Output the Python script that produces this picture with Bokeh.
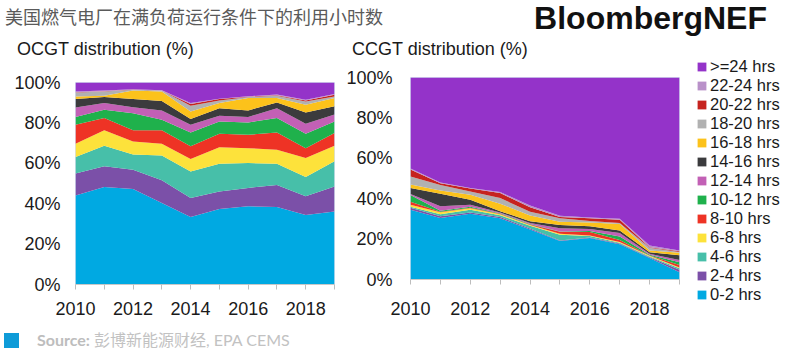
from bokeh.plotting import figure
from bokeh.models import (ColumnDataSource, Range1d, FixedTicker, PrintfTickFormatter,
                          Legend, LegendItem, Div)
from bokeh.layouts import column, row
from bokeh.embed import file_html
from bokeh.resources import INLINE

years = [2010, 2011, 2012, 2013, 2014, 2015, 2016, 2017, 2018, 2019]
year_labels = ["2010", "", "2012", "", "2014", "", "2016", "", "2018", ""]
bins = ["0-2 hrs", "2-4 hrs", "4-6 hrs", "6-8 hrs", "8-10 hrs", "10-12 hrs", "12-14 hrs",
        "14-16 hrs", "16-18 hrs", "18-20 hrs", "20-22 hrs", "22-24 hrs", ">=24 hrs"]
colors = ["#00a9e2", "#7b50a8", "#47bfa9", "#fde23b", "#ee3325", "#1fb14c", "#c260b5",
          "#3b3b3d", "#fcc21b", "#b1b1b1", "#c6231f", "#b991c9", "#9433c9"]
y_ticks = [0, 20, 40, 60, 80, 100]

# OCGT distribution (%) per band, 2010-2019
ocgt_00_02 = [44.0, 48.3, 47.3, 40.4, 33.4, 37.4, 38.7, 38.4, 34.4, 36.2]
ocgt_02_04 = [10.9, 10.2, 9.5, 11.2, 9.4, 8.7, 9.1, 10.9, 9.3, 12.3]
ocgt_04_06 = [8.2, 10.2, 7.5, 12.2, 13.2, 13.7, 12.3, 10.5, 9.5, 12.5]
ocgt_06_08 = [6.6, 7.6, 6.5, 5.9, 6.1, 8.2, 7.4, 6.9, 9.4, 7.7]
ocgt_08_10 = [9.4, 6.1, 5.5, 6.6, 6.3, 6.6, 6.6, 8.6, 4.9, 6.3]
ocgt_10_12 = [3.8, 4.1, 8.5, 5.2, 6.9, 6.1, 6.1, 7.1, 7.1, 5.7]
ocgt_12_14 = [4.7, 3.3, 3.0, 4.7, 3.8, 2.8, 2.7, 4.9, 5.0, 3.5]
ocgt_14_16 = [4.2, 3.0, 4.0, 4.7, 2.8, 3.8, 3.3, 2.8, 5.6, 4.1]
ocgt_16_18 = [1.3, 0.6, 4.2, 4.7, 3.8, 2.5, 6.1, 2.2, 3.8, 4.0]
ocgt_18_20 = [2.0, 2.2, 0.4, 0.4, 2.8, 1.3, 0.5, 1.1, 1.6, 0.8]
ocgt_20_22 = [0.1, 0.1, 0.1, 0.1, 0.8, 0.7, 0.2, 0.3, 0.5, 0.8]
ocgt_22_24 = [0.4, 0.3, 0.1, 0.1, 0.5, 0.2, 0.2, 0.3, 0.4, 0.4]
ocgt_24_up = [4.4, 4.0, 3.4, 3.8, 10.2, 8.0, 6.8, 6.0, 8.5, 5.7]

# CCGT distribution (%) per band, 2010-2019
ccgt_00_02 = [34.5, 30.5, 32.5, 30.3, 24.8, 19.0, 20.5, 17.5, 10.7, 3.6]
ccgt_02_04 = [1.0, 0.8, 0.7, 0.7, 0.4, 0.3, 0.3, 0.3, 0.3, 1.2]
ccgt_04_06 = [0.5, 1.0, 1.3, 0.8, 1.4, 2.9, 0.7, 0.4, 0.4, 0.8]
ccgt_06_08 = [1.0, 1.0, 0.8, 0.5, 0.4, 0.4, 0.3, 0.4, 0.3, 0.4]
ccgt_08_10 = [1.5, 0.3, 0.2, 0.2, 0.2, 1.0, 1.7, 0.9, 0.2, 1.2]
ccgt_10_12 = [3.3, 0.4, 0.5, 0.3, 0.3, 0.2, 0.5, 1.8, 0.3, 1.4]
ccgt_12_14 = [0.5, 2.3, 1.0, 0.4, 0.5, 1.6, 1.0, 1.7, 0.5, 1.0]
ccgt_14_16 = [3.0, 6.2, 2.5, 0.6, 0.8, 1.6, 1.4, 1.3, 0.8, 2.4]
ccgt_16_18 = [1.7, 1.5, 2.5, 3.7, 2.9, 1.6, 1.8, 3.2, 0.8, 1.3]
ccgt_18_20 = [4.0, 2.8, 1.6, 2.8, 1.8, 1.7, 0.7, 0.5, 1.4, 0.3]
ccgt_20_22 = [3.5, 0.9, 1.4, 2.5, 2.3, 0.7, 1.4, 1.6, 0.3, 0.4]
ccgt_22_24 = [0.5, 0.3, 0.3, 0.5, 0.8, 0.6, 0.4, 0.5, 0.8, 0.4]
ccgt_24_up = [45.0, 52.0, 54.7, 56.7, 63.4, 68.4, 69.3, 69.9, 83.2, 85.6]

ocgt_series = [ocgt_00_02, ocgt_02_04, ocgt_04_06, ocgt_06_08, ocgt_08_10, ocgt_10_12,
               ocgt_12_14, ocgt_14_16, ocgt_16_18, ocgt_18_20, ocgt_20_22, ocgt_22_24, ocgt_24_up]
ccgt_series = [ccgt_00_02, ccgt_02_04, ccgt_04_06, ccgt_06_08, ccgt_08_10, ccgt_10_12,
               ccgt_12_14, ccgt_14_16, ccgt_16_18, ccgt_18_20, ccgt_20_22, ccgt_22_24, ccgt_24_up]

FONT = "Liberation Sans"
keys = ["b%02d" % i for i in range(len(bins))]


def make_source(series):
    data = {"year": years}
    for k, s in zip(keys, series):
        data[k] = s
    return ColumnDataSource(data)


def make_chart(src, width, height, bl, br, bt, bb, ylab_standoff, xlab_standoff):
    p = figure(width=width, height=height, x_range=Range1d(2010, 2019), y_range=Range1d(0, 100),
               output_backend="svg", toolbar_location=None,
               min_border_left=bl, min_border_right=br, min_border_top=bt, min_border_bottom=bb)
    rs = p.varea_stack(stackers=keys, x="year", color=colors, source=src)
    p.xgrid.visible = False
    p.ygrid.visible = False
    p.outline_line_color = "#d5dfee"
    p.background_fill_color = "white"
    p.border_fill_alpha = 0

    p.xaxis.ticker = FixedTicker(ticks=years)
    p.xaxis.major_label_overrides = {y: l for y, l in zip(years, year_labels)}
    p.xaxis.major_tick_out = 5
    p.xaxis.major_tick_in = 0
    p.xaxis.minor_tick_line_color = None
    p.xaxis.major_tick_line_color = "#bdbdbd"
    p.xaxis.axis_line_color = "#c8c8c8"
    p.xaxis.major_label_standoff = xlab_standoff
    p.xaxis.major_label_text_font = FONT
    p.xaxis.major_label_text_font_size = "18px"
    p.xaxis.major_label_text_color = "#1a1a1a"

    p.yaxis.ticker = FixedTicker(ticks=y_ticks)
    p.yaxis.formatter = PrintfTickFormatter(format="%d%%")
    p.yaxis.axis_line_color = None
    p.yaxis.major_tick_line_color = None
    p.yaxis.minor_tick_line_color = None
    p.yaxis.major_tick_out = 0
    p.yaxis.major_tick_in = 0
    p.yaxis.major_label_standoff = ylab_standoff
    p.yaxis.major_label_text_font = FONT
    p.yaxis.major_label_text_font_size = "18px"
    p.yaxis.major_label_text_color = "#1a1a1a"
    return p, rs


ocgt_src = make_source(ocgt_series)
ccgt_src = make_source(ccgt_series)
p1, rs1 = make_chart(ocgt_src, 337, 274, 75, 3, 25, 47, 15, 12)
p2, rs2 = make_chart(ccgt_src, 359, 274, 73, 17, 20, 52, 18, 17)

# legend panel: a figure without axes; its stack lies outside its ranges so only the key shows
p3 = figure(width=88, height=274, x_range=Range1d(0, 1), y_range=Range1d(0, 1),
            output_backend="svg", toolbar_location=None,
            x_axis_location=None, y_axis_location=None,
            min_border_left=0, min_border_right=0, min_border_top=0, min_border_bottom=0)
p3.xgrid.visible = False
p3.ygrid.visible = False
p3.outline_line_color = None
p3.border_fill_alpha = 0
p3.background_fill_alpha = 0
rs3 = p3.varea_stack(stackers=keys, x="year", color=colors, source=ccgt_src)

legend = Legend(items=[LegendItem(label=lab, renderers=[r]) for lab, r in reversed(list(zip(bins, rs3)))],
                location="top_left")
legend.border_line_color = None
legend.background_fill_alpha = 0
legend.label_text_font = FONT
legend.label_text_font_size = "16.5px"
legend.label_text_color = "#1a1a1a"
legend.glyph_width = 11
legend.glyph_height = 11
legend.label_height = 19
legend.spacing = 0
legend.padding = 3
legend.margin = 0
legend.label_standoff = 3
p3.add_layout(legend)

header = Div(width=784, height=47, text=(
    '<div style="position:relative;width:784px;height:47px;">'
    '<span style="position:absolute;left:0px;top:0px;font-family:\'Noto Sans CJK SC\';'
    'font-size:18px;line-height:22px;color:#5a5a5a;white-space:nowrap;">'
    '美国燃气电厂在满负荷运行条件下的利用小时数</span>'
    '<span style="position:absolute;right:22px;top:-5px;font-family:\'Liberation Sans\';'
    'font-weight:bold;font-size:32px;line-height:36px;color:#111;white-space:nowrap;">BloombergNEF</span>'
    '<span style="position:absolute;left:12px;top:33px;font-family:\'Liberation Sans\';'
    'font-size:18px;line-height:22px;color:#1a1a1a;white-space:nowrap;">OCGT distribution (%)</span>'
    '<span style="position:absolute;left:347px;top:33px;font-family:\'Liberation Sans\';'
    'font-size:18px;line-height:22px;color:#1a1a1a;white-space:nowrap;">CCGT distribution (%)</span>'
    '</div>'))

footer = Div(width=784, height=20, text=(
    '<div style="position:relative;width:784px;height:20px;">'
    '<span style="position:absolute;left:-1px;top:-3px;width:15px;height:15px;background:#0e9bd8;display:block;"></span>'
    '<span style="position:absolute;left:32px;top:-6px;font-family:Lato,\'Noto Sans CJK SC\';'
    'font-size:16px;line-height:20px;color:#c2c2c2;white-space:nowrap;">'
    '<b style="font-weight:700;color:#bdbdbd;">Source:</b> 彭博新能源财经, EPA CEMS</span>'
    '</div>'))

layout = column(header, row(p1, column(p2), column(p3)), footer)
open("out.html", "w").write(file_html(layout, INLINE))
